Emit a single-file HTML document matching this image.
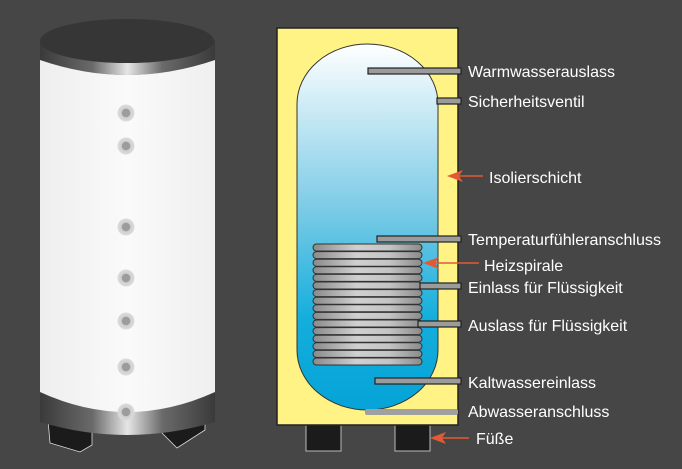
<!DOCTYPE html>
<html><head><style>
html,body{margin:0;padding:0;background:#464646;}
text{font-family:"Liberation Sans",sans-serif;font-size:16px;fill:#fff;}
</style></head><body>
<svg width="682" height="464" viewBox="0 0 682 464" xmlns="http://www.w3.org/2000/svg">
<defs>
<linearGradient id="met" x1="0" x2="1" y1="0" y2="0">
<stop offset="0" stop-color="#3a3a3a"/><stop offset="0.3" stop-color="#6a6a6a"/>
<stop offset="0.5" stop-color="#e6e6e6"/><stop offset="0.7" stop-color="#6a6a6a"/><stop offset="1" stop-color="#3a3a3a"/>
</linearGradient>
<linearGradient id="wht" x1="0" x2="1"><stop offset="0" stop-color="#eeeeee"/><stop offset="0.5" stop-color="#fafafa"/><stop offset="1" stop-color="#efefef"/></linearGradient>
<linearGradient id="water" x1="0" x2="0" y1="0" y2="1">
<stop offset="0" stop-color="#ffffff"/><stop offset="0.45" stop-color="#7ccbe6"/><stop offset="0.75" stop-color="#14aedc"/><stop offset="1" stop-color="#05a3d8"/></linearGradient>
<linearGradient id="coil" x1="0" x2="1"><stop offset="0" stop-color="#8a8a8a"/><stop offset="0.4" stop-color="#d0d0d0"/><stop offset="0.7" stop-color="#c4c4c4"/><stop offset="1" stop-color="#8a8a8a"/></linearGradient>
<radialGradient id="knob"><stop offset="0.45" stop-color="#9c9c9c"/><stop offset="0.55" stop-color="#cfcfcf"/><stop offset="1" stop-color="#dcdcdc"/></radialGradient>
</defs>
<path d="M48,420 L92,420 L92,445 L80,452 L50,443 Z" fill="#1b1b1b" stroke="#ddd" stroke-width="0.8"/>
<path d="M162,420 L205,420 L205,430 L177,448 L162,433 Z" fill="#1b1b1b" stroke="#ddd" stroke-width="0.8"/>
<path d="M40,392 L215,392 L215,422 Q127,448 40,422 Z" fill="url(#met)"/>
<path d="M40,40 L215,40 L215,60 Q127,90 40,60 Z" fill="url(#met)"/>
<path d="M40,60 Q127,90 215,60 L215,392 Q127,432 40,392 Z" fill="url(#wht)"/>
<ellipse cx="127" cy="41" rx="87" ry="22" fill="#363636"/>
<g fill="url(#knob)">
<circle cx="126" cy="113" r="8.5"/><circle cx="126" cy="146" r="8.5"/><circle cx="126" cy="227" r="8.5"/>
<circle cx="126" cy="278" r="8.5"/><circle cx="126" cy="321" r="8.5"/><circle cx="126" cy="367" r="8.5"/><circle cx="126" cy="412" r="8.5"/>
</g>
<rect x="306" y="425" width="35" height="26" fill="#1b1b1b" stroke="#bbb" stroke-width="1"/>
<rect x="395" y="425" width="35" height="26" fill="#1b1b1b" stroke="#bbb" stroke-width="1"/>
<rect x="277" y="28" width="181" height="397" fill="#fef384" stroke="#222" stroke-width="1.5"/>
<path d="M297,104 A70.5,60 0 0 1 438,104 L438,350 A70.5,60 0 0 1 297,350 Z" fill="url(#water)" stroke="#333" stroke-width="1"/>
<g fill="url(#coil)" stroke="#333" stroke-width="1">
<rect x="313" y="244" width="109" height="7" rx="3.5"/><rect x="313" y="251.6" width="109" height="7" rx="3.5"/>
<rect x="313" y="259.2" width="109" height="7" rx="3.5"/><rect x="313" y="266.8" width="109" height="7" rx="3.5"/>
<rect x="313" y="274.4" width="109" height="7" rx="3.5"/><rect x="313" y="282" width="109" height="7" rx="3.5"/>
<rect x="313" y="289.6" width="109" height="7" rx="3.5"/><rect x="313" y="297.2" width="109" height="7" rx="3.5"/>
<rect x="313" y="304.8" width="109" height="7" rx="3.5"/><rect x="313" y="312.4" width="109" height="7" rx="3.5"/>
<rect x="313" y="320" width="109" height="7" rx="3.5"/><rect x="313" y="327.6" width="109" height="7" rx="3.5"/>
<rect x="313" y="335.2" width="109" height="7" rx="3.5"/><rect x="313" y="342.8" width="109" height="7" rx="3.5"/>
<rect x="313" y="350.4" width="109" height="7" rx="3.5"/><rect x="313" y="358" width="109" height="7" rx="3.5"/>
</g>
<g fill="#9b9b9b" stroke="#222" stroke-width="1.2">
<rect x="368" y="68" width="93" height="6"/><rect x="437" y="98" width="24" height="6"/>
<rect x="377" y="236" width="84" height="6"/><rect x="420" y="283" width="41" height="6"/>
<rect x="418" y="321" width="43" height="6"/><rect x="375" y="378" width="86" height="6"/>
</g>
<rect x="365" y="409" width="93" height="6" rx="2" fill="#a0a0a0"/>
<g stroke="#e25a35" stroke-width="1.5" fill="#e25a35">
<line x1="483" y1="176" x2="455" y2="176"/><path d="M447,176 L463,170 L459,176 L463,182 Z" stroke="none"/>
<line x1="479" y1="263" x2="431" y2="263"/><path d="M423,263 L439,257 L435,263 L439,269 Z" stroke="none"/>
<line x1="469" y1="438" x2="438" y2="438"/><path d="M430,438 L446,432 L442,438 L446,444 Z" stroke="none"/>
</g>
<text x="468" y="77">Warmwasserauslass</text>
<text x="468" y="107">Sicherheitsventil</text>
<text x="489" y="183">Isolierschicht</text>
<text x="468" y="245" textLength="193" lengthAdjust="spacingAndGlyphs">Temperaturfühleranschluss</text>
<text x="484" y="271">Heizspirale</text>
<text x="468" y="293">Einlass für Flüssigkeit</text>
<text x="468" y="331">Auslass für Flüssigkeit</text>
<text x="468" y="388">Kaltwassereinlass</text>
<text x="468" y="417">Abwasseranschluss</text>
<text x="476" y="444">Füße</text>
</svg>
</body></html>
